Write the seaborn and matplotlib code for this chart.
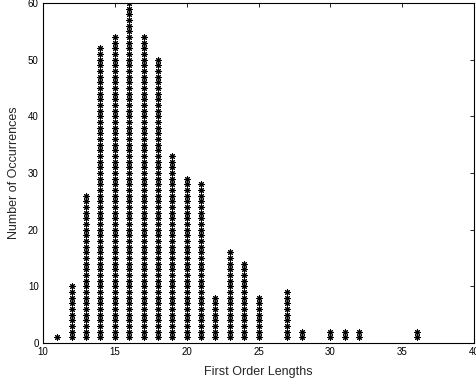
import numpy as np
import pandas as pd
import matplotlib
matplotlib.use("Agg")
import matplotlib.pyplot as plt
import seaborn as sns

# Occurrences of each first-order length
lengths = [11, 12, 13, 14, 15, 16, 17, 18, 19, 20, 21, 22, 23, 24, 25, 27, 28, 30, 31, 32, 36]
counts = [1, 10, 26, 52, 54, 60, 54, 50, 33, 29, 28, 8, 16, 14, 8, 9, 2, 2, 2, 2, 2]
x_ticks = [10, 15, 20, 25, 30, 35, 40]
y_ticks = [0, 10, 20, 30, 40, 50, 60]

# One marker per occurrence, stacked upward in each column
rows = [(L, k) for L, c in zip(lengths, counts) for k in range(1, c + 1)]
df = pd.DataFrame(rows, columns=["length", "occurrence"])

sns.set_style("white")
plt.rcParams["font.family"] = ["Liberation Sans", "DejaVu Sans"]

fig = plt.figure(figsize=(4.77, 3.89), dpi=100)
ax = fig.add_axes([0.090, 0.118, 0.904, 0.874])

sns.scatterplot(data=df, x="length", y="occurrence", ax=ax,
                marker=(8, 2, 0), s=15, color="black", linewidth=0.75,
                edgecolor="black", legend=False)

ax.set_xlim(10, 40)
ax.set_ylim(0, 60)
ax.set_xticks(x_ticks)
ax.set_yticks(y_ticks)
ax.tick_params(direction="in", length=3, width=0.6, labelsize=7,
               top=True, right=True, colors="black", pad=3)
for s in ax.spines.values():
    s.set_visible(True)
    s.set_linewidth(0.8)
    s.set_color("black")
ax.set_xlabel("First Order Lengths", fontsize=9, labelpad=6)
ax.set_ylabel("Number of Occurrences", fontsize=9, labelpad=6)

fig.savefig("out.png", dpi=100)
